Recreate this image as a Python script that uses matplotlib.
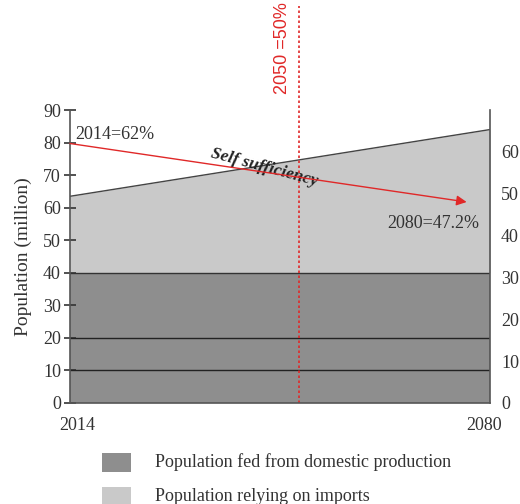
import matplotlib
matplotlib.use("Agg")
import matplotlib.pyplot as plt
from matplotlib.patches import Rectangle
from matplotlib.transforms import ScaledTranslation

plt.rcParams["font.family"] = ["Liberation Serif", "DejaVu Serif"]

# Data
years = [2014, 2080]
total_population = [63.5, 84.0]          # million
domestic_population = [40.0, 40.0]      # million fed from domestic production
band_lines = [10, 20]                    # horizontal divisions inside domestic block
self_sufficiency = [62.0, 47.2]          # percent
midpoint_year = 2050
midpoint_label = "2050 =50%"
left_ticks = [0, 10, 20, 30, 40, 50, 60, 70, 80, 90]
right_ticks = [0, 10, 20, 30, 40, 50, 60]
legend_labels = ["Population fed from domestic production",
                 "Population relying on imports"]

dark = "#8e8e8e"
light = "#c9c9c9"
red = "#e02828"
ink = "#333333"

fig = plt.figure(figsize=(5.2, 5.04), dpi=100)
ax = fig.add_axes([0.1346, 0.2004, 0.8077, 0.5813])

ax.fill_between(years, domestic_population, total_population, color=light, lw=0)
ax.fill_between(years, 0, domestic_population, color=dark, lw=0)
ax.plot(years, total_population, color="#444444", lw=1.0)
ax.plot(years, domestic_population, color="#333333", lw=1.0)
for v in band_lines:
    ax.plot(years, [v, v], color="#222222", lw=1.0)

ax.set_xlim(years[0], years[1])
ax.set_ylim(0, 90)
ax.set_yticks(left_ticks)
ax.set_xticks(years)
ax.set_xticklabels([str(y) for y in years])
ax.tick_params(axis="y", direction="inout", length=9, width=1.2, color=ink,
               labelsize=13, labelcolor=ink, pad=2)
ax.tick_params(axis="x", length=0, labelsize=13, labelcolor=ink, pad=10)
for lab, dx in zip(ax.get_xticklabels(), [7, -6]):
    lab.set_transform(lab.get_transform() + ScaledTranslation(dx / 100, 0, fig.dpi_scale_trans))
for s in ["top", "right"]:
    ax.spines[s].set_visible(False)
for s in ["left", "bottom"]:
    ax.spines[s].set_color("#555555")
    ax.spines[s].set_linewidth(1.2)
ax.set_ylabel("Population (million)", fontsize=14, color=ink, labelpad=8)

# Self-sufficiency axis
ax2 = ax.twinx()
ax2.set_ylim(0, 70)
ax2.set_yticks(right_ticks)
ax2.tick_params(axis="y", length=0, labelsize=13, labelcolor=ink, pad=8)
for s in ["top", "left", "bottom"]:
    ax2.spines[s].set_visible(False)
ax2.spines["right"].set_color("#555555")
ax2.spines["right"].set_linewidth(1.2)

ax2.annotate("", xy=(years[1], self_sufficiency[1]),
             xytext=(years[0], self_sufficiency[0]),
             arrowprops=dict(arrowstyle="-|>,head_length=0.6,head_width=0.3",
                             color=red, lw=1.0, shrinkA=0, shrinkB=17))

ax2.text(years[0] + 0.8, self_sufficiency[0] + 0.2, f"{years[0]}={self_sufficiency[0]:.0f}%",
         fontsize=13, color=ink, ha="left", va="bottom")
ax2.text(years[1] - 1.7, self_sufficiency[1] - 2.3, f"{years[1]}={self_sufficiency[1]}%",
         fontsize=13, color=ink, ha="right", va="top")
ax.text(2044.5, 72.3, "Self sufficiency", fontsize=12.5, fontweight="bold",
        fontstyle="italic", color="#222222", rotation=-15,
        ha="center", va="center", rotation_mode="anchor")

# Mid-century marker
ax.plot([midpoint_year, midpoint_year], [0, 122], color=red, lw=1.2,
        linestyle=(0, (1.5, 1.5)), clip_on=False)
ax.text(midpoint_year - 1.3, 109, midpoint_label, rotation=90, fontsize=13,
        color=red, ha="right", va="center", clip_on=False,
        family=["Liberation Sans", "DejaVu Sans"])

# Legend
for i, (lab, col) in enumerate(zip(legend_labels, [dark, light])):
    y0 = 1 - (472 + i * 34) / 504
    fig.add_artist(Rectangle((102 / 520, y0), 29 / 520, 19 / 504,
                             transform=fig.transFigure, color=col, lw=0))
    fig.text(155 / 520, y0 + 9.5 / 504, lab, fontsize=13, color=ink,
             ha="left", va="center")

fig.savefig("out.png", dpi=100)
